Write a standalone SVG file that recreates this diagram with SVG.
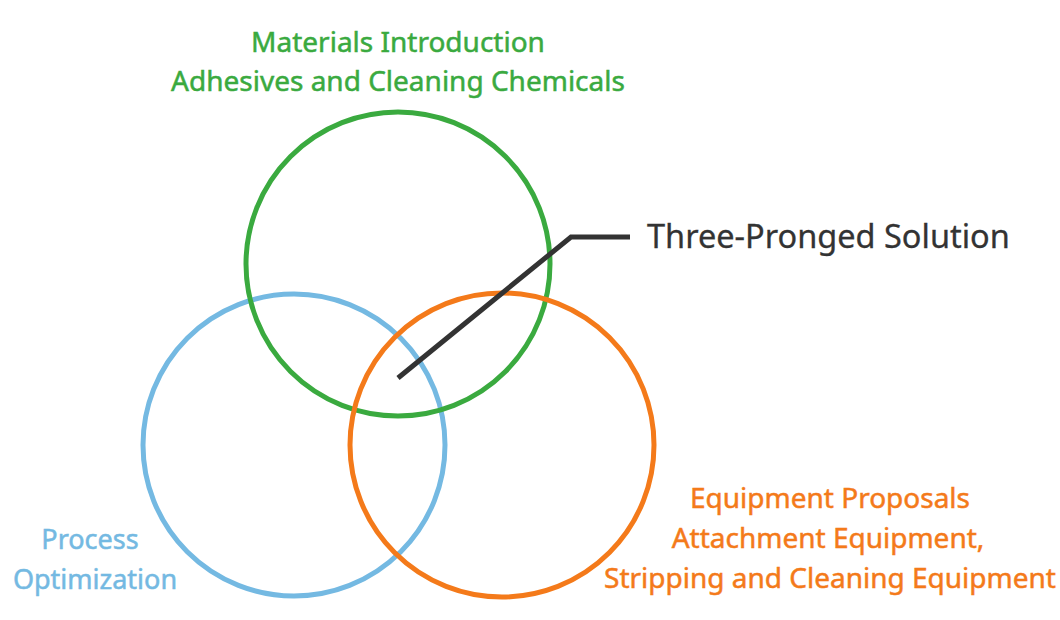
<svg xmlns="http://www.w3.org/2000/svg" width="1060" height="620" viewBox="0 0 1060 620">
<style>
text{font-family:"Noto Sans","Open Sans","Liberation Sans",sans-serif;font-size:28px;stroke-width:0.5}
.ring{fill:none;stroke-width:5}
.g{fill:#3aaa3f;stroke:#3aaa3f}.b{fill:#74b9e2;stroke:#74b9e2}.o{fill:#f47a1a;stroke:#f47a1a}.k{fill:#333333;stroke:#333333;font-size:32.5px;stroke-width:0.3}
</style>
<rect width="1060" height="620" fill="#ffffff"/>
<g id="process-optimization">
<circle class="ring" cx="294" cy="445" r="151" stroke="#74b9e2"/>
<text class="b" x="90" y="549" text-anchor="middle" style="font-size:27px">Process</text>
<text class="b" x="95" y="589" text-anchor="middle" style="font-size:27px">Optimization</text>
</g>
<g id="materials-introduction">
<circle class="ring" cx="398" cy="264" r="152" stroke="#3aaa3f"/>
<text class="g" x="398" y="52" text-anchor="middle">Materials Introduction</text>
<text class="g" x="398" y="91" text-anchor="middle">Adhesives and Cleaning Chemicals</text>
</g>
<g id="equipment-proposals">
<circle class="ring" cx="502" cy="445" r="152" stroke="#f47a1a"/>
<text class="o" x="830" y="508" text-anchor="middle">Equipment Proposals</text>
<text class="o" x="828" y="548" text-anchor="middle">Attachment Equipment,</text>
<text class="o" x="830" y="588" text-anchor="middle">Stripping and Cleaning Equipment</text>
</g>
<g id="connectors">
<polyline points="398,378 571,237 630,237" fill="none" stroke="#333333" stroke-width="5"/>
</g>
<g id="three-pronged-solution">
<text class="k" x="647" y="248">Three-Pronged Solution</text>
</g>
</svg>
